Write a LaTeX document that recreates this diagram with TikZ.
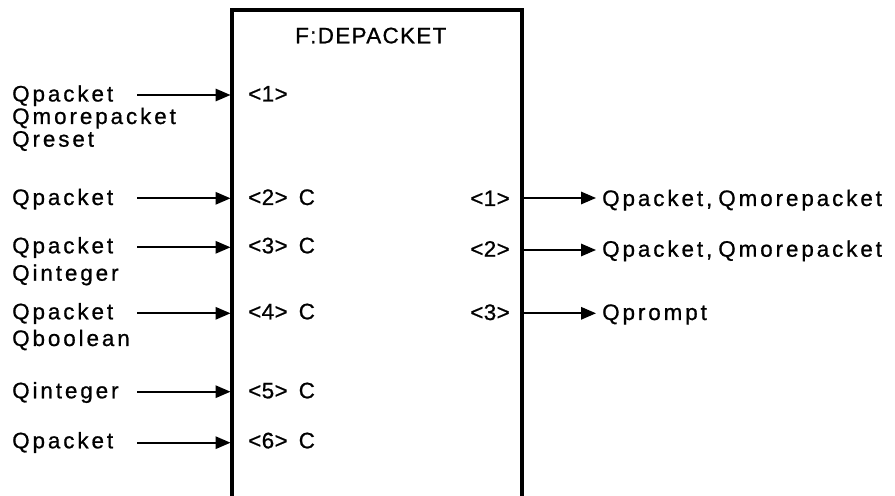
\documentclass[tikz,border=0pt]{standalone}
\usepackage{fontspec}
\setmainfont{Liberation Sans}[LetterSpace=13,FakeBold=0.8]
\usetikzlibrary{arrows.meta}

\tikzset{
  lbl/.style={anchor=base west, inner sep=0pt, font=\fontsize{22.5}{24}\selectfont},
  tight/.style={lbl, font=\fontsize{22.5}{24}\selectfont\addfontfeature{LetterSpace=2}},
  port/.style={tight, anchor=base east},
  flow/.style={line width=1.6bp, -{Triangle[length=15bp,width=12.5bp]}},
}

\begin{document}
\begin{tikzpicture}[x=1bp,y=-1bp]
\useasboundingbox (0,0) rectangle (895,496);
% ---- the block (open at the bottom)
\draw[line width=3.6bp] (232,496) -- (232,10) -- (522,10) -- (522,496);
\node[lbl, font=\fontsize{22.5}{24}\selectfont\addfontfeature{LetterSpace=6}] (title) at (295,43.3) {F:DEPACKET};
% ---- inputs
\node[lbl] (in1)  at (12,101.5) {Qpacket};
\node[lbl] (in1b) at (12,124)   {Qmorepacket};
\node[lbl] (in1c) at (12,146.7) {Qreset};
\node[lbl] (in2)  at (12,205)   {Qpacket};
\node[lbl] (in3)  at (12,253.3) {Qpacket};
\node[lbl] (in3b) at (12,280.7) {Qinteger};
\node[lbl] (in4)  at (12,319.3) {Qpacket};
\node[lbl] (in4b) at (12,346)   {Qboolean};
\node[lbl] (in5)  at (12,398.3) {Qinteger};
\node[lbl] (in6)  at (12,448.3) {Qpacket};
% ---- input ports
\node[tight] (p1) at (248,101.5) {<1>};
\node[tight] (p2) at (248,205)   {<2>\hspace{11bp}C};
\node[tight] (p3) at (248,253.3) {<3>\hspace{11bp}C};
\node[tight] (p4) at (248,319.3) {<4>\hspace{11bp}C};
\node[tight] (p5) at (248,398.3) {<5>\hspace{11bp}C};
\node[tight] (p6) at (248,448.3) {<6>\hspace{11bp}C};
\coordinate (a1) at (137,95);    \coordinate (b1) at (230.5,95);
\coordinate (a2) at (137,198.3); \coordinate (b2) at (230.5,198.3);
\coordinate (a3) at (137,247.3); \coordinate (b3) at (230.5,247.3);
\coordinate (a4) at (137,313.3); \coordinate (b4) at (230.5,313.3);
\coordinate (a5) at (137,391.7); \coordinate (b5) at (230.5,391.7);
\coordinate (a6) at (137,442.7); \coordinate (b6) at (230.5,442.7);
\draw[flow] (a1) -- (b1);
\draw[flow] (a2) -- (b2);
\draw[flow] (a3) -- (b3);
\draw[flow] (a4) -- (b4);
\draw[flow] (a5) -- (b5);
\draw[flow] (a6) -- (b6);
% ---- outputs
\node[port] (q1) at (510,206)   {<1>};
\node[port] (q2) at (510,256.7) {<2>};
\node[port] (q3) at (510,320)   {<3>};
\node[lbl] (out1) at (602,206)   {Qpacket,\hspace{6bp}Qmorepacket};
\node[lbl] (out2) at (602,256.7) {Qpacket,\hspace{6bp}Qmorepacket};
\node[lbl] (out3) at (602,320)   {Qprompt};
\coordinate (c1) at (522,198);   \coordinate (d1) at (596,198);
\coordinate (c2) at (522,250);   \coordinate (d2) at (596,250);
\coordinate (c3) at (522,313.3); \coordinate (d3) at (596,313.3);
\draw[flow] (c1) -- (d1);
\draw[flow] (c2) -- (d2);
\draw[flow] (c3) -- (d3);
\end{tikzpicture}
\end{document}
